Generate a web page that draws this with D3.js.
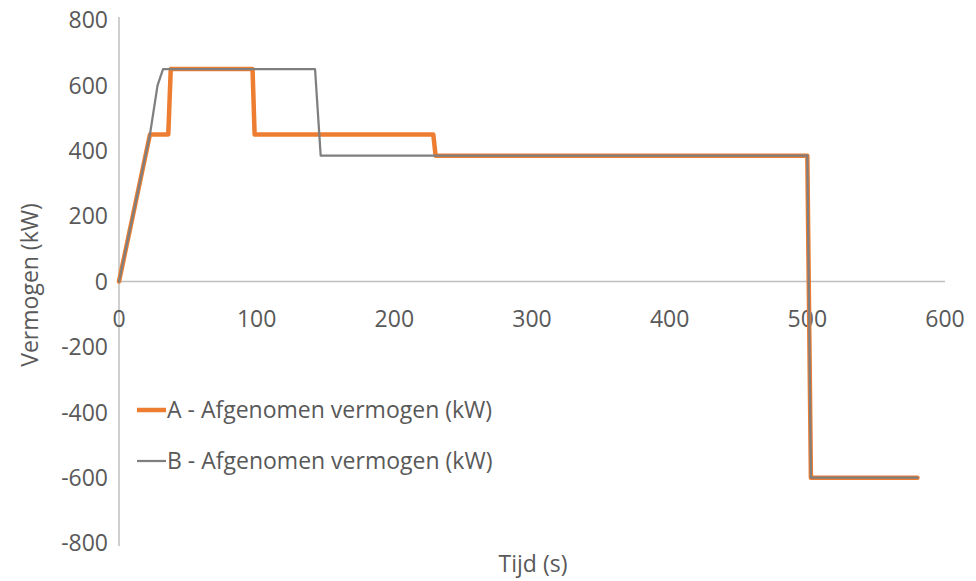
<!DOCTYPE html>
<html>
<head>
<meta charset="utf-8">
<script src="https://cdn.jsdelivr.net/npm/d3@7"></script>
<style>
  html, body { margin: 0; padding: 0; background: #fff; }
  svg { display: block; }
  text { font-family: "Open Sans", "Noto Sans", sans-serif; fill: #595959; }
</style>
</head>
<body>
<div id="chart"></div>
<script>
// Time in seconds, power in kW
const seriesATime  = [0, 22.5, 35.8, 37.6, 97, 98.5, 228.3, 230, 500, 502.6, 580];
const seriesAPower = [0, 450, 450, 650, 650, 450, 450, 385, 385, -600, -600];
const seriesBTime  = [0, 22.5, 28, 32, 142.4, 146.5, 500, 502.6, 580];
const seriesBPower = [0, 450, 600, 650, 650, 385, 385, -600, -600];

const xTicks = [0, 100, 200, 300, 400, 500, 600];
const yTicks = [800, 600, 400, 200, 0, -200, -400, -600, -800];

const seriesNames = ["A - Afgenomen vermogen (kW)", "B - Afgenomen vermogen (kW)"];
const seriesColors = ["#ED7D31", "#7F7F7F"];
const seriesWidths = [4.5, 2.25];

const W = 976, H = 581;
const FS = 23;
const svg = d3.select("#chart").append("svg").attr("width", W).attr("height", H);

const x = d3.scaleLinear().domain([0, 600]).range([119, 945]);
const y = d3.scaleLinear().domain([-800, 800]).range([543, 20]);

// Axis lines
svg.append("line").attr("x1", x(0)).attr("x2", x(0)).attr("y1", y(800) - 3).attr("y2", y(-800) + 3)
  .attr("stroke", "#BFBFBF").attr("stroke-width", 1.5);
svg.append("line").attr("x1", x(0)).attr("x2", x(600)).attr("y1", y(0)).attr("y2", y(0))
  .attr("stroke", "#BFBFBF").attr("stroke-width", 1.5);

// Tick labels
svg.append("g").selectAll("text").data(yTicks).join("text")
  .attr("x", 108).attr("y", d => y(d)).attr("dy", "0.36em")
  .attr("text-anchor", "end").attr("font-size", FS).text(d => d);
svg.append("g").selectAll("text").data(xTicks).join("text")
  .attr("x", d => x(d)).attr("y", y(0) + 45)
  .attr("text-anchor", "middle").attr("font-size", FS).text(d => d);

// Axis titles
svg.append("text").attr("transform", `translate(38,${285}) rotate(-90)`)
  .attr("text-anchor", "middle").attr("font-size", FS).text("Vermogen (kW)");
svg.append("text").attr("x", 533).attr("y", 572)
  .attr("text-anchor", "middle").attr("font-size", FS).text("Tijd (s)");

// Series lines
const line = d3.line().x(d => x(d[0])).y(d => y(d[1]));
const dataA = seriesATime.map((t, i) => [t, seriesAPower[i]]);
const dataB = seriesBTime.map((t, i) => [t, seriesBPower[i]]);
[dataA, dataB].forEach((d, i) => {
  svg.append("path").datum(d).attr("d", line).attr("fill", "none")
    .attr("stroke", seriesColors[i]).attr("stroke-width", seriesWidths[i])
    .attr("stroke-linejoin", "round").attr("stroke-linecap", "round");
});

// Legend
const legendY = [410, 461];
seriesNames.forEach((name, i) => {
  svg.append("line").attr("x1", 137).attr("x2", 166).attr("y1", legendY[i]).attr("y2", legendY[i])
    .attr("stroke", seriesColors[i]).attr("stroke-width", seriesWidths[i]);
  svg.append("text").attr("x", 167).attr("y", legendY[i]).attr("dy", "0.36em")
    .attr("font-size", FS).text(name);
});
</script>
</body>
</html>
